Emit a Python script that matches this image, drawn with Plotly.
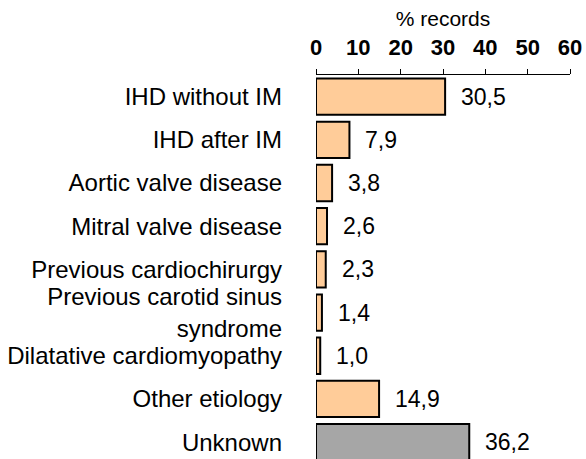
import plotly.graph_objects as go

# etiology categories and share of records (%)
categories = [
    "IHD without IM",
    "IHD after IM",
    "Aortic valve disease",
    "Mitral valve disease",
    "Previous cardiochirurgy",
    "Previous carotid sinus<br>syndrome",
    "Dilatative cardiomyopathy",
    "Other etiology",
    "Unknown",
]
values = [30.5, 7.9, 3.8, 2.6, 2.3, 1.4, 1.0, 14.9, 36.2]
x_ticks = [0, 10, 20, 30, 40, 50, 60]

FONT = "Arial, Liberation Sans, sans-serif"
colors = ["#A6A6A6" if c == "Unknown" else "#FFCC99" for c in categories]

fig = go.Figure(go.Bar(
    x=values, y=categories, orientation="h",
    marker=dict(color=colors, line=dict(color="black", width=2)),
    width=0.84,
    hoverinfo="x+y",
))

# value labels with decimal comma, just right of each bar
for c, v in zip(categories, values):
    fig.add_annotation(
        x=v, y=c, text=f"{v:.1f}".replace(".", ","),
        showarrow=False, xanchor="left", xshift=14,
        font=dict(family=FONT, size=23, color="black"),
    )

fig.update_layout(
    width=586, height=459,
    margin=dict(l=316, r=16, t=75, b=0, autoexpand=False),
    paper_bgcolor="white", plot_bgcolor="white",
    showlegend=False,
    font=dict(family=FONT, color="black"),
)
fig.update_xaxes(
    side="top", range=[0, 60], tickvals=x_ticks,
    automargin=False,
    showgrid=False, zeroline=False,
    showline=True, linecolor="black", linewidth=1,
    ticks="outside", ticklen=5, tickcolor="black",
    tickfont=dict(family=FONT, size=22, weight="bold", color="black"),
    ticklabelstandoff=5,
    title=dict(text="% records", font=dict(family=FONT, size=21, color="black"), standoff=2),
)
# last bar runs off the bottom edge like in the original
fig.update_yaxes(
    categoryorder="array", categoryarray=categories,
    range=[8.39, -0.5],
    automargin=False,
    showgrid=False, zeroline=False, showline=False, ticks="",
    tickfont=dict(family=FONT, size=24, color="black"),
    ticklabelstandoff=33,
)

# drop the default body margin so the figure fills the window exactly
fig.write_html(
    "out.html",
    config={"displayModeBar": False},
    post_script="document.body.style.margin='0';",
)
